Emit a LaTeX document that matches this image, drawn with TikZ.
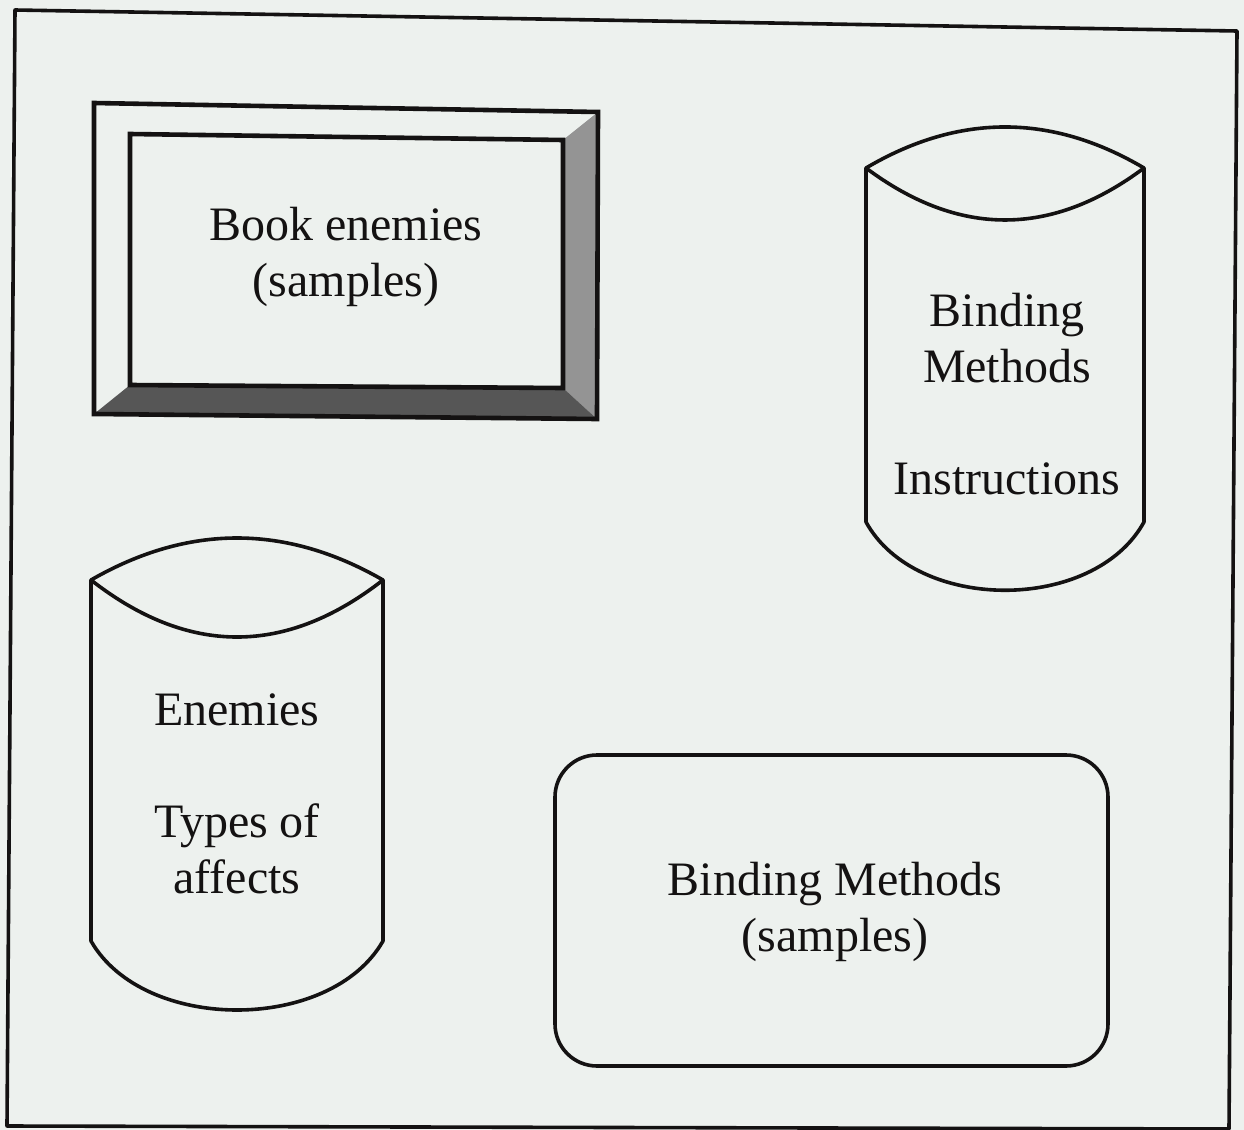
\documentclass[tikz,border=0pt]{standalone}
\usepackage{fontspec}
\setmainfont{Liberation Serif}
\definecolor{paper}{RGB}{237,241,238}
\definecolor{ink}{RGB}{20,18,18}
\definecolor{bevelside}{RGB}{148,148,148}
\definecolor{bevelbase}{RGB}{86,86,86}
\begin{document}
\begin{tikzpicture}[x=0.5pt,y=-0.5pt,
  shapeline/.style={draw=ink, line width=1.8pt, line join=round},
  heavyline/.style={draw=ink, line width=2.3pt, line join=miter},
  celltext/.style={align=center, text=ink, font=\fontsize{24}{28}\selectfont, inner sep=0pt}]
\fill[paper] (0,0) rectangle (1244,1130);
\useasboundingbox (0,0) rectangle (1244,1130);

% outer frame
\draw[shapeline] (15,10) -- (1237,31) -- (1229,1129) -- (7,1126) -- cycle;

% bevelled box: shaded right and bottom faces
\fill[bevelside] (598,112) -- (597,419) -- (563,388) -- (563,140) -- cycle;
\fill[bevelbase] (94,414) -- (130,385) -- (563,388) -- (597,419) -- cycle;
\draw[heavyline] (94,103) -- (598,112) -- (597,419) -- (94,414) -- cycle;
\draw[heavyline] (130,134) -- (563,140) -- (563,388) -- (130,385) -- cycle;
\node[celltext] (book) at (346,257) {Book enemies\\(samples)};

% cylinder: binding methods / instructions
\draw[shapeline] (866,168) .. controls (958.7,113.3) and (1051.3,113.3) .. (1144,168)
  -- (1144,522) .. controls (1094,613) and (916,613) .. (866,522) -- cycle;
\draw[shapeline] (866,168) .. controls (958.7,237.3) and (1051.3,237.3) .. (1144,168);
\node[celltext] (instr) at (1007,394) {Binding\\Methods\\[28pt]Instructions};

% cylinder: enemies / types of affects
\draw[shapeline] (91,580) .. controls (188.3,524) and (285.7,524) .. (383,580)
  -- (383,941) .. controls (330.4,1033) and (143.6,1033) .. (91,941) -- cycle;
\draw[shapeline] (91,580) .. controls (188.3,656) and (285.7,656) .. (383,580);
\node[celltext] (enemies) at (237,794) {Enemies\\[28pt]Types of\\affects};

% rounded box: binding methods samples
\node[shapeline, rounded corners=21pt, minimum width=276.5pt, minimum height=155.5pt] (bmbox) at (831.5,910.5) {};
\node[celltext] (bmsamples) at (835,912) {Binding Methods\\(samples)};
\end{tikzpicture}
\end{document}
